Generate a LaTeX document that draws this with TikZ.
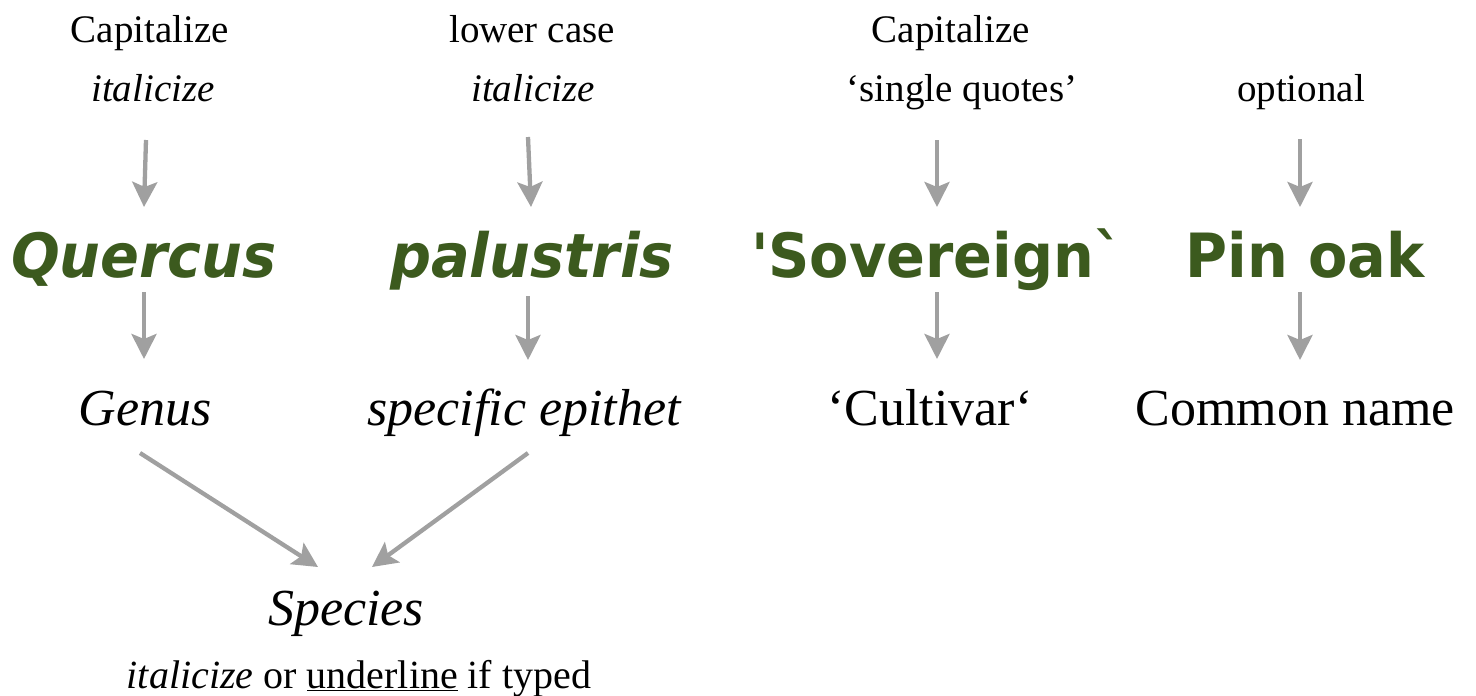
\documentclass[tikz,border=0pt]{standalone}
\usepackage{fontspec}
\setmainfont{Liberation Serif}
\newfontfamily\greenfont{DejaVu Sans}[Ligatures=ResetAll]
\usetikzlibrary{arrows.meta}
\definecolor{leafgreen}{RGB}{60,90,30}
\definecolor{arrowgray}{RGB}{160,160,160}
\newcommand{\gword}[1]{\scalebox{0.94}[1]{#1}}
\begin{document}
\begin{tikzpicture}[x=1pt,y=-1pt,
  toplabel/.style={anchor=base,inner sep=0pt,font=\fontsize{39}{44}\selectfont},
  namelabel/.style={anchor=base,inner sep=0pt,font=\fontsize{52}{58}\selectfont},
  greenword/.style={anchor=base,inner sep=0pt,text=leafgreen,font=\greenfont\bfseries\fontsize{61}{66}\selectfont},
  conn/.style={draw=arrowgray,line width=4.3pt,-{Stealth[width=25pt,length=25pt,inset=5pt]}}]
\useasboundingbox (0,0) rectangle (1476,696);
% top labels
\node[toplabel] (c1) at (150,42) {Capitalize};
\node[toplabel] (i1) at (153,101) {\itshape italicize};
\node[toplabel] (c2) at (532,42) {lower case};
\node[toplabel] (i2) at (533,101) {\itshape italicize};
\node[toplabel] (c3) at (951,42) {Capitalize};
\node[toplabel] (i3) at (962,101) {‘single quotes’};
\node[toplabel] (o4) at (1301,101) {optional};
% green names
\node[greenword] (q) at (144,277) {\gword{\itshape Quercus}};
\node[greenword] (p) at (532,277) {\gword{\itshape palustris}};
\node[greenword] (s) at (937,277) {\gword{'Sovereign`}};
\node[greenword] (po) at (1305,277) {\gword{Pin oak}};
% category names
\node[namelabel] (g) at (145,425) {\itshape Genus};
\node[namelabel] (se) at (524,425) {\itshape specific epithet};
\node[namelabel] (cu) at (930,425) {‘Cultivar‘};
\node[namelabel] (cn) at (1295,425) {Common name};
\node[namelabel] (sp) at (346,625) {\itshape Species};
\node[toplabel,font=\fontsize{40}{44}\selectfont] (note) at (359,688) {\textit{italicize} or \underline{underline} if typed};
% arrow end coordinates
\coordinate (a1s) at (146,140); \coordinate (a1e) at (144,207);
\coordinate (a2s) at (528,137); \coordinate (a2e) at (531,207);
\coordinate (a3s) at (937,140); \coordinate (a3e) at (937,207);
\coordinate (a4s) at (1300,139); \coordinate (a4e) at (1300,207);
\coordinate (b1s) at (144,292); \coordinate (b1e) at (144,359);
\coordinate (b2s) at (528,296); \coordinate (b2e) at (528,360);
\coordinate (b3s) at (937,292); \coordinate (b3e) at (937,359);
\coordinate (b4s) at (1300,292); \coordinate (b4e) at (1300,360);
\coordinate (d1s) at (140,453); \coordinate (d1e) at (318,567);
\coordinate (d2s) at (528,453); \coordinate (d2e) at (372,567);
% connectors
\draw[conn] (a1s) -- (a1e);
\draw[conn] (a2s) -- (a2e);
\draw[conn] (a3s) -- (a3e);
\draw[conn] (a4s) -- (a4e);
\draw[conn] (b1s) -- (b1e);
\draw[conn] (b2s) -- (b2e);
\draw[conn] (b3s) -- (b3e);
\draw[conn] (b4s) -- (b4e);
\draw[conn] (d1s) -- (d1e);
\draw[conn] (d2s) -- (d2e);
\end{tikzpicture}
\end{document}
